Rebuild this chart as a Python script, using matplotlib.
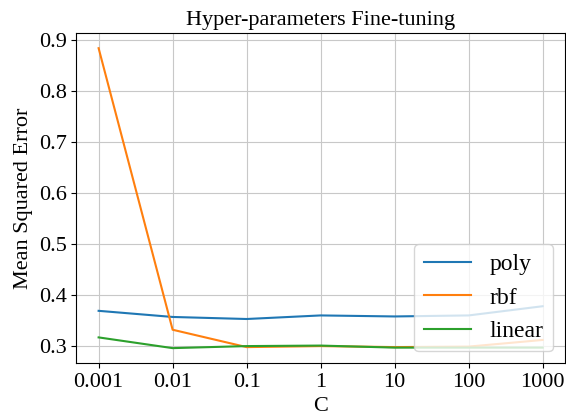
import matplotlib
matplotlib.use("Agg")
import matplotlib.pyplot as plt

plt.rcParams['font.family'] = ['Liberation Serif', 'DejaVu Serif']

# C values and mean squared error per kernel
c_labels = ['0.001', '0.01', '0.1', '1', '10', '100', '1000']
poly = [0.369, 0.357, 0.353, 0.360, 0.358, 0.360, 0.378]
rbf = [0.883, 0.332, 0.298, 0.300, 0.298, 0.299, 0.312]
linear = [0.317, 0.296, 0.300, 0.301, 0.297, 0.297, 0.297]

x = list(range(len(c_labels)))

fig, ax = plt.subplots(figsize=(5.66, 4.15), dpi=100)
ax.plot(x, poly, label='poly')
ax.plot(x, rbf, label='rbf')
ax.plot(x, linear, label='linear')
ax.set_xticks(x)
ax.set_xticklabels(c_labels)
ax.tick_params(labelsize=16)
ax.set_xlabel('C', fontsize=16)
ax.set_ylabel('Mean Squared Error', fontsize=16)
ax.set_title('Hyper-parameters Fine-tuning', fontsize=16)
ax.grid(True, color='#c8c8c8')
ax.legend(loc='lower right', fontsize=17)
fig.subplots_adjust(left=0.135, right=0.998, top=0.92, bottom=0.125)
fig.savefig('out.png')
